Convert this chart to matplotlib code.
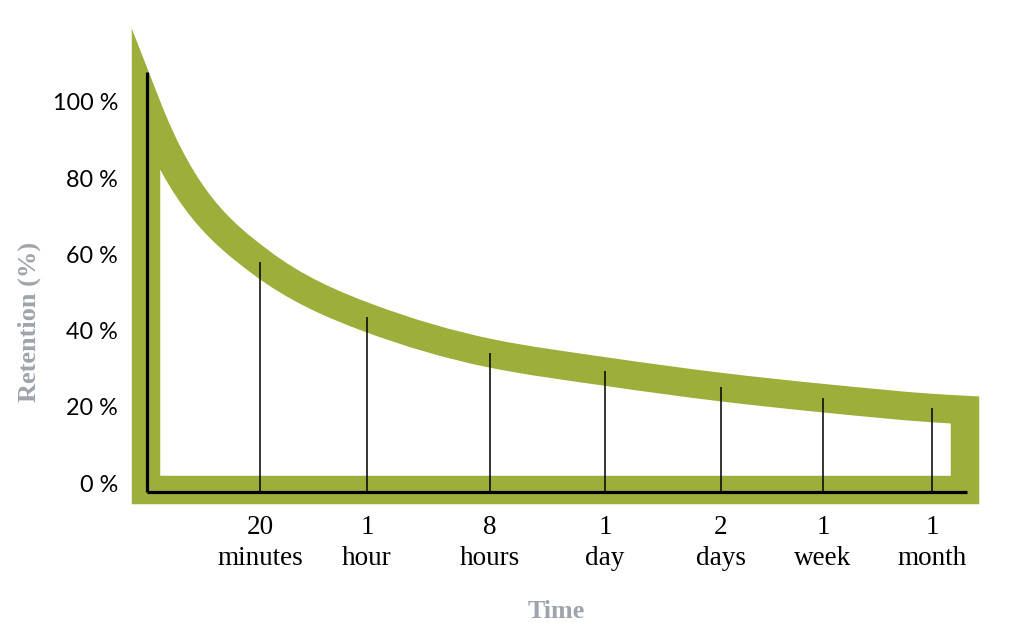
import numpy as np
import matplotlib
matplotlib.use('Agg')
import matplotlib.pyplot as plt
from matplotlib.path import Path
from matplotlib.patches import PathPatch

# datos de la curva del olvido (retencion en %)
etiquetas_tiempo = ['20\nminutes', '1\nhour', '8\nhours', '1\nday', '2\ndays', '1\nweek', '1\nmonth']
retencion = [58.6, 44.0, 34.6, 29.8, 25.7, 22.8, 20.2]
retencion_inicio = 100.0
retencion_final = 19.7
marcas_y = [0, 20, 40, 60, 80, 100]

# posiciones horizontales (en pixeles de la figura)
pos_x = [260, 367, 490, 605, 721, 823, 932]
x_inicio = 146
x_final = 965

VERDE = '#9dae3b'
GRIS = '#9fa3ab'
PX_POR_PCT = 3.81
Y_CERO_PX = 485


def pct(y_px):
    return (Y_CERO_PX - y_px) / PX_POR_PCT


def camino_curva(xs, ys, pendiente_inicio):
    xs = np.asarray(xs, float)
    ys = np.asarray(ys, float)
    d = np.diff(ys) / np.diff(xs)
    m = np.zeros_like(ys)
    m[1:-1] = 2.0 / (1.0 / d[:-1] + 1.0 / d[1:])
    m[0] = pendiente_inicio
    m[-1] = d[-1]
    verts = [(xs[0], ys[0])]
    codes = [Path.MOVETO]
    for i in range(len(xs) - 1):
        h = xs[i + 1] - xs[i]
        verts += [(xs[i] + h / 3, ys[i] + m[i] * h / 3),
                  (xs[i + 1] - h / 3, ys[i + 1] - m[i + 1] * h / 3),
                  (xs[i + 1], ys[i + 1])]
        codes += [Path.CURVE4] * 3
    return verts, codes


fig = plt.figure(figsize=(10.24, 6.42), dpi=100)
ax = fig.add_axes([0, 0, 1, 1])
ax.set_xlim(0, 1024)
ax.set_ylim(pct(642), pct(0))
ax.axis('off')

# banda verde: curva + marco cerrado
xs = [x_inicio] + pos_x + [x_final]
ys = [retencion_inicio] + retencion + [retencion_final]
verts, codes = camino_curva(xs, ys, -0.68)
fondo = pct(490)
verts += [(x_final, fondo), (x_inicio, fondo), (x_inicio, retencion_inicio)]
codes += [Path.LINETO, Path.LINETO, Path.CLOSEPOLY]
banda = PathPatch(Path(verts, codes), facecolor='none', edgecolor=VERDE,
                  linewidth=20.5, joinstyle='miter', capstyle='butt')
ax.add_patch(banda)

# ejes negros
eje_y = pct(492)
ax.plot([147, 147], [eje_y, pct(72)], color='black', lw=2.3, solid_capstyle='butt')
ax.plot([147, 967], [eje_y, eje_y], color='black', lw=2.3, solid_capstyle='butt')

# lineas verticales de cada momento
for x, r in zip(pos_x, retencion):
    ax.plot([x, x], [eje_y, r], color='black', lw=1.1, solid_capstyle='butt')

# etiquetas del eje y
for v in marcas_y:
    ax.text(118, v, f'{v} %', ha='right', va='center', fontsize=16.8,
            family='Lato', color='black')

# etiquetas del eje x
for x, et in zip(pos_x, etiquetas_tiempo):
    ax.text(x, pct(543), et, ha='center', va='center', fontsize=19.5,
            family='Liberation Serif', linespacing=1.35, color='black')

ax.text(556, pct(611), 'Time', ha='center', va='center', fontsize=18.7,
        family='Liberation Serif', fontweight='bold', color=GRIS)
ax.text(29, pct(322), 'Retention (%)', ha='center', va='center', fontsize=19,
        family='Liberation Serif', fontweight='bold', color=GRIS, rotation=90)

fig.savefig('out.png', dpi=100, facecolor='white')
plt.close('all')
